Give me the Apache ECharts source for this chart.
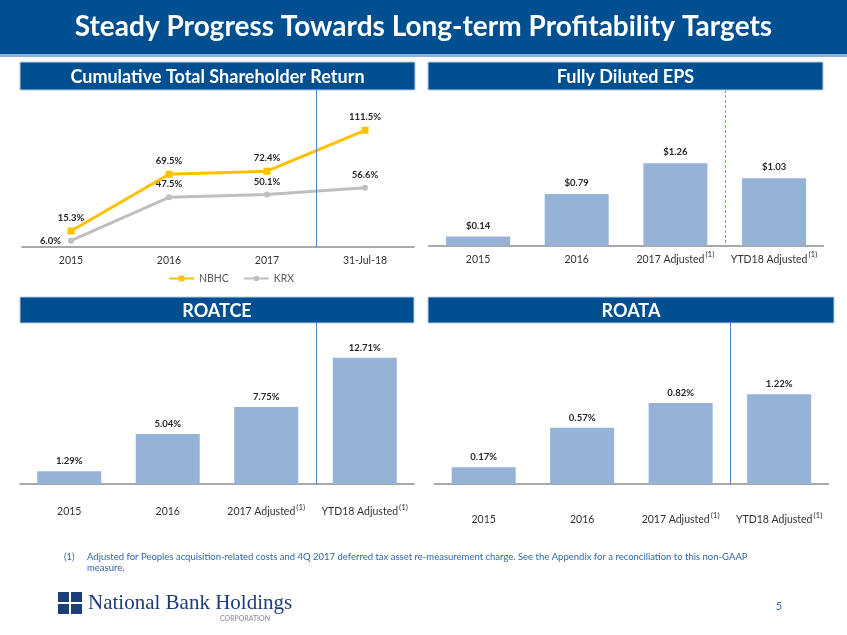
<!DOCTYPE html>
<html><head><meta charset="utf-8">
<script src="https://cdn.jsdelivr.net/npm/echarts@6/dist/echarts.min.js"></script>
<style>html,body{margin:0;padding:0;background:#fff}#c{width:847px;height:635px}</style>
</head><body><div id="c"></div>
<script>
// ---- data ----
const tsrCategories = ['2015', '2016', '2017', '31-Jul-18'];
const nbhcValues = [15.3, 69.5, 72.4, 111.5];
const krxValues = [6.0, 47.5, 50.1, 56.6];
const epsCategories = ['2015', '2016', '2017 Adjusted(1)', 'YTD18 Adjusted(1)'];
const epsValues = [0.14, 0.79, 1.26, 1.03];
const roatceCategories = ['2015', '2016', '2017 Adjusted(1)', 'YTD18 Adjusted(1)'];
const roatceValues = [1.29, 5.04, 7.75, 12.71];
const roataCategories = ['2015', '2016', '2017 Adjusted(1)', 'YTD18 Adjusted(1)'];
const roataValues = [0.17, 0.57, 0.82, 1.22];
const seriesNames = ['NBHC', 'KRX'];

const FONT = 'Lato, "Noto Sans", sans-serif';
const NAVY = '#004f91';
const BAR = '#95b3d7';
const SEP = '#4f7fc6';

const chart = echarts.init(document.getElementById('c'), null, {renderer: 'canvas'});

function catLabel(v) {
  const m = v.match(/^(.*)\((\d)\)$/);
  if (m) return '{a|' + m[1] + '}{s|(' + m[2] + ')}';
  return '{a|' + v + '}';
}
function xAxisCfg(grid, cats, margin) {
  return {
    type: 'category', gridIndex: grid, data: cats, boundaryGap: true,
    axisTick: {show: false},
    axisLine: {lineStyle: {color: '#8c8c8c', width: 1.5}},
    axisLabel: {
      interval: 0, hideOverlap: false,
      margin: margin, formatter: catLabel,
      rich: {
        a: {fontFamily: FONT, fontSize: 10.5, color: '#333', lineHeight: 14, padding: [3, 0, 0, 0]},
        s: {fontFamily: FONT, fontSize: 8, color: '#333', verticalAlign: 'top', lineHeight: 8, padding: [0, 0, 0, 1]}
      }
    }
  };
}
function yAxisCfg(grid, max) {
  return {type: 'value', gridIndex: grid, min: 0, max: max, show: false, splitLine: {show: false}};
}
const lblStyle = {fontFamily: FONT, fontSize: 9.5, fontWeight: 'bold', color: '#262626'};

function header(id, x, y, w, h, text, size) {
  return [
    {type: 'rect', id: id + 'r', shape: {x: x, y: y, width: w, height: h}, style: {fill: NAVY, stroke: '#b9cde6', lineWidth: 1}},
    {type: 'text', id: id + 't', x: x + w / 2, y: y + h / 2 + 1, style: {text: text, fill: '#fff', font: 'bold ' + size + 'px ' + FONT, textAlign: 'center', textVerticalAlign: 'middle'}}
  ];
}

let graphics = [
  {type: 'rect', id: 'tb', shape: {x: 0, y: 0, width: 847, height: 54}, style: {fill: NAVY}},
  {type: 'rect', id: 'tl', shape: {x: 0, y: 54, width: 847, height: 3}, style: {fill: '#8fb2dc'}},
  {type: 'text', id: 'tt', x: 423.5, y: 27, style: {text: 'Steady Progress Towards Long-term Profitability Targets', fill: '#fff', font: 'bold 28px ' + FONT, textAlign: 'center', textVerticalAlign: 'middle'}}
];
graphics = graphics
  .concat(header('h1', 20, 62, 395, 28, 'Cumulative Total Shareholder Return', 18))
  .concat(header('h2', 428, 62, 395, 28, 'Fully Diluted EPS', 18))
  .concat(header('h3', 20, 297, 394, 26, 'ROATCE', 18))
  .concat(header('h4', 428, 297, 406, 26, 'ROATA', 18));
const FN_FONT = '9.5px "Liberation Sans Narrow", ' + FONT;
graphics.push(
  {type: 'text', id: 'fn1', x: 64, y: 557, style: {text: '(1)', fill: '#2f66ad', font: FN_FONT, textVerticalAlign: 'middle'}},
  {type: 'text', id: 'fn2', x: 87, y: 557, style: {text: 'Adjusted for Peoples acquisition-related costs and 4Q 2017 deferred tax asset re-measurement charge. See the Appendix for a reconciliation to this non-GAAP', fill: '#2f66ad', font: FN_FONT, textVerticalAlign: 'middle'}},
  {type: 'text', id: 'fn3', x: 87, y: 568, style: {text: 'measure.', fill: '#2f66ad', font: FN_FONT, textVerticalAlign: 'middle'}},
  {type: 'rect', id: 'lg1', shape: {x: 58, y: 592, width: 11, height: 10}, style: {fill: '#1c3f7c'}},
  {type: 'rect', id: 'lg2', shape: {x: 71, y: 592, width: 11, height: 10}, style: {fill: '#1c3f7c'}},
  {type: 'rect', id: 'lg3', shape: {x: 58, y: 604, width: 11, height: 10}, style: {fill: '#1c3f7c'}},
  {type: 'rect', id: 'lg4', shape: {x: 71, y: 604, width: 11, height: 10}, style: {fill: '#1c3f7c'}},
  {type: 'text', id: 'lgt', x: 88, y: 614, style: {text: 'National Bank Holdings', fill: '#1f3c78', font: '21px "Liberation Serif", serif', textVerticalAlign: 'bottom'}},
  {type: 'text', id: 'lgc', x: 245, y: 619, style: {text: 'CORPORATION', fill: '#8a8a8a', font: '7px ' + FONT, textAlign: 'center', textVerticalAlign: 'middle'}},
  {type: 'text', id: 'pg', x: 779, y: 606, style: {text: '5', fill: '#3b6fb5', font: '11px ' + FONT, textAlign: 'center', textVerticalAlign: 'middle'}}
);

const yMax = {tsr: 150, eps: 2.38, roatce: 16.2, roata: 1.63, roata2: 2.19};

const option = {
  animation: false,
  backgroundColor: '#fff',
  textStyle: {fontFamily: FONT},
  grid: [
    {left: 22, width: 392, top: 90, height: 157},
    {left: 428.7, width: 394.7, top: 90, height: 155.7},
    {left: 20, width: 394, top: 323, height: 161},
    {left: 434.4, width: 394, top: 323, height: 161}
  ],
  xAxis: [
    xAxisCfg(0, tsrCategories, 5),
    xAxisCfg(1, epsCategories, 5),
    xAxisCfg(2, roatceCategories, 19),
    xAxisCfg(3, roataCategories, 27)
  ],
  yAxis: [
    yAxisCfg(0, yMax.tsr),
    yAxisCfg(1, yMax.eps),
    yAxisCfg(2, yMax.roatce),
    yAxisCfg(3, yMax.roata),
    yAxisCfg(3, yMax.roata2)
  ],
  legend: {
    data: seriesNames, left: 163, top: 268, itemWidth: 25, itemHeight: 7, itemGap: 14,
    textStyle: {fontFamily: FONT, fontSize: 10.5, color: '#595959'}
  },
  series: [
    {
      name: seriesNames[0], type: 'line', xAxisIndex: 0, yAxisIndex: 0,
      data: nbhcValues, color: '#ffc000', symbol: 'rect', symbolSize: 7,
      lineStyle: {width: 3, color: '#ffc000'}, itemStyle: {color: '#ffc000'},
      label: Object.assign({show: true, position: 'top', distance: 5, formatter: p => p.value.toFixed(1) + '%'}, lblStyle),
      z: 3
    },
    {
      name: seriesNames[1], type: 'line', xAxisIndex: 0, yAxisIndex: 0,
      data: krxValues.map((v, i) => i === 0 ? {value: v, label: {position: 'left', distance: 7}} : v),
      color: '#bfbfbf', symbol: 'circle', symbolSize: 6,
      lineStyle: {width: 3, color: '#bfbfbf'}, itemStyle: {color: '#bfbfbf'},
      label: Object.assign({show: true, position: 'top', distance: 5, formatter: p => p.value.toFixed(1) + '%'}, lblStyle),
      z: 2
    },
    {
      type: 'bar', xAxisIndex: 1, yAxisIndex: 1, data: epsValues, barWidth: 64,
      itemStyle: {color: BAR},
      label: Object.assign({show: true, position: 'top', distance: 6, formatter: p => '$' + p.value.toFixed(2)}, lblStyle)
    },
    {
      type: 'bar', xAxisIndex: 2, yAxisIndex: 2, data: roatceValues, barWidth: 64,
      itemStyle: {color: BAR},
      label: Object.assign({show: true, position: 'top', distance: 5, formatter: p => p.value.toFixed(2) + '%'}, lblStyle)
    },
    {
      type: 'bar', xAxisIndex: 3, yAxisIndex: 3, barWidth: 64, barGap: '-100%',
      data: roataValues.map((v, i) => i < 3 ? v : '-'),
      itemStyle: {color: BAR},
      label: Object.assign({show: true, position: 'top', distance: 5, formatter: p => p.value.toFixed(2) + '%'}, lblStyle)
    },
    {
      type: 'bar', xAxisIndex: 3, yAxisIndex: 4, barWidth: 64, barGap: '-100%',
      data: roataValues.map((v, i) => i === 3 ? v : '-'),
      itemStyle: {color: BAR},
      label: Object.assign({show: true, position: 'top', distance: 5, formatter: p => p.value.toFixed(2) + '%'}, lblStyle)
    }
  ],
  graphic: {elements: graphics}
};
chart.setOption(option);

function separator(id, xIdx, yIdx, cats, max, dashed) {
  const x = (chart.convertToPixel({xAxisIndex: xIdx}, cats[2]) + chart.convertToPixel({xAxisIndex: xIdx}, cats[3])) / 2;
  const yTop = chart.convertToPixel({yAxisIndex: yIdx}, max);
  const yBot = chart.convertToPixel({yAxisIndex: yIdx}, 0);
  return {
    type: 'line', id: id, shape: {x1: Math.round(x) + 0.5, y1: yTop, x2: Math.round(x) + 0.5, y2: yBot},
    style: {stroke: dashed ? '#7d9fd6' : SEP, lineWidth: 1, lineDash: dashed ? [3, 2] : null}, z: 10
  };
}
graphics.push(
  separator('s1', 0, 0, tsrCategories, yMax.tsr, false),
  separator('s2', 1, 1, epsCategories, yMax.eps, true),
  separator('s3', 2, 2, roatceCategories, yMax.roatce, false),
  separator('s4', 3, 3, roataCategories, yMax.roata, false)
);
chart.setOption({graphic: {elements: graphics}});
</script>
</body></html>
